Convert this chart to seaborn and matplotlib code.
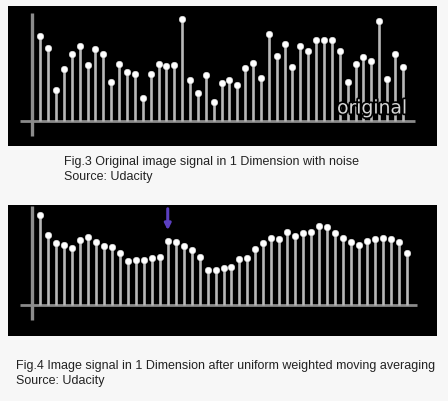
import matplotlib
matplotlib.use("Agg")
import matplotlib.pyplot as plt
import matplotlib.patheffects as pe
import seaborn as sns
import numpy as np
import pandas as pd

sns.set_style("white")
plt.rcParams['font.family'] = ['Liberation Sans', 'DejaVu Sans']

# Data (heights above the baseline)
original_signal = [85, 73, 31, 52, 67, 75, 56, 72, 67, 39, 57, 49, 47, 23, 47, 57,
                   55, 56, 102, 41, 28, 46, 19, 38, 41, 36, 53, 58, 43, 87, 65, 77,
                   54, 75, 70, 81, 81, 81, 70, 39, 57, 64, 60, 100, 42, 67, 54]
averaged_signal = [90, 70, 62, 60, 57, 65, 68, 63, 59, 58, 52, 44, 45, 45, 47, 48,
                   64, 63, 59, 55, 48, 35, 35, 37, 38, 46, 47, 56, 62, 67, 66, 73,
                   69, 72, 73, 79, 78, 72, 67, 63, 60, 64, 66, 67, 66, 63, 52]
arrow_index = 16
caption1 = ["Fig.3 Original image signal in 1 Dimension with noise", "Source: Udacity"]
caption2 = ["Fig.4 Image signal in 1 Dimension after uniform weighted moving averaging",
            "Source: Udacity"]
panel_label = "original"

W, H = 448, 402
fig = plt.figure(figsize=(W / 100, H / 100), dpi=100)
fig.patch.set_facecolor('#f7f7f7')


def px_axes(x0, y0, x1, y1):
    return fig.add_axes([x0 / W, 1 - y1 / H, (x1 - x0) / W, (y1 - y0) / H])


def draw_panel(ax, values, xlim, ylim, vaxis_x, vaxis_y, base_x):
    ax.set_facecolor('black')
    df = pd.DataFrame({'i': np.arange(len(values)), 'v': values})
    ax.plot(base_x, [0, 0], color='#8a8a8a', lw=2.0, solid_capstyle='butt', zorder=1)
    ax.plot([vaxis_x, vaxis_x], vaxis_y, color='#8c8c8c', lw=2.4, solid_capstyle='butt', zorder=1)
    ax.vlines(df['i'], 0, df['v'], color='#b8b8b8', lw=1.9, zorder=2)
    sns.scatterplot(data=df, x='i', y='v', ax=ax, s=22, color='white',
                    edgecolor='#e0e0e0', linewidth=0.4, zorder=3, legend=False)
    ax.set_xlim(*xlim)
    ax.set_ylim(*ylim)
    ax.set_xticks([])
    ax.set_yticks([])
    ax.set_xlabel('')
    ax.set_ylabel('')
    for s in ax.spines.values():
        s.set_visible(False)


# Panel 1
ax1 = px_axes(8, 7, 437, 147)
sp1 = (402.8 - 40.3) / 46
draw_panel(ax1, original_signal,
           ((8 - 40.3) / sp1, (437 - 40.3) / sp1), (-25.3, 114.7),
           (32 - 40.3) / sp1, (-15.3, 107.7),
           ((20 - 40.3) / sp1, (415 - 40.3) / sp1))
ax1.text((372 - 40.3) / sp1, 121.7 - 109, panel_label, color='#d6d6d6', fontsize=13.5,
         family='DejaVu Sans', ha='center', va='center', zorder=4,
         path_effects=[pe.withStroke(linewidth=2.5, foreground='black')])

# Panel 2
ax2 = px_axes(8, 206, 437, 337)
sp2 = (406.7 - 40.3) / 46
draw_panel(ax2, averaged_signal,
           ((8 - 40.3) / sp2, (437 - 40.3) / sp2), (-31, 100),
           (32 - 40.3) / sp2, (-15, 99),
           ((20 - 40.3) / sp2, (417 - 40.3) / sp2))
ax2.annotate('', xy=(arrow_index, averaged_signal[arrow_index] + 8),
             xytext=(arrow_index, 99),
             arrowprops=dict(arrowstyle='-|>', color='#5b3fc0', lw=2.2, mutation_scale=9),
             zorder=5)

# Captions
fs = 9.0
fig.text(64 / W, 1 - 162 / H, caption1[0], fontsize=fs, color='#222222', va='center')
fig.text(64 / W, 1 - 177 / H, caption1[1], fontsize=fs, color='#222222', va='center')
fig.text(16 / W, 1 - 366 / H, caption2[0], fontsize=fs, color='#222222', va='center')
fig.text(16 / W, 1 - 381 / H, caption2[1], fontsize=fs, color='#222222', va='center')

fig.savefig('out.png', dpi=100, facecolor=fig.get_facecolor())
